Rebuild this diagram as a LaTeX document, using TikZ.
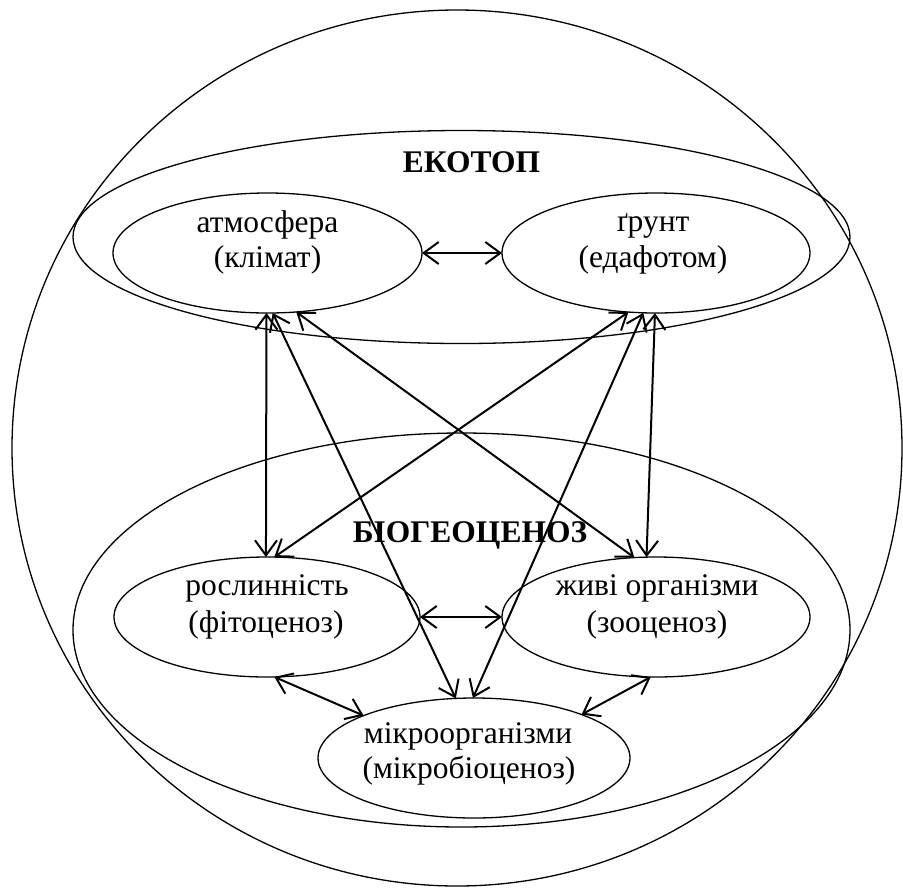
\documentclass[tikz,border=0pt]{standalone}
\usepackage{fontspec}
\setmainfont{Liberation Serif}
\usetikzlibrary{arrows.meta,shapes.geometric}
\begin{document}
\begin{tikzpicture}[x=1pt,y=-1pt,
  shell/.style={draw, ellipse, line width=1.3pt, inner sep=0pt, outer sep=0pt},
  cell/.style={shell, minimum width=#1, minimum height=120pt},
  txt/.style={font=\fontsize{31.5}{36}\selectfont, anchor=base, inner sep=0pt},
  ttl/.style={font=\fontsize{31.5}{36}\selectfont\bfseries, anchor=base, inner sep=0pt},
  link/.style={line width=2pt, {Straight Barb[length=15pt,width=22pt]}-{Straight Barb[length=15pt,width=22pt]}}
]
\useasboundingbox (0,0) rectangle (903,887);

% containers
\node[shell, minimum width=890pt, minimum height=876pt] (world) at (457,448) {};
\node[shell, minimum width=777pt, minimum height=213pt] (ecotop) at (461.5,237) {};
\node[shell, minimum width=777pt, minimum height=394pt] (bgc) at (461.5,630) {};

% components
\node[cell=309pt] (atm) at (267.5,253) {};
\node[cell=308pt] (grunt) at (656,253) {};
\node[cell=306pt] (fito) at (267,617) {};
\node[cell=308pt] (zhyvi) at (656,617) {};
\node[cell=312pt] (mikro) at (474,758) {};

% titles
\node[ttl] (ecotopT) at (471.5,172) {ЕКОТОП};
\node[ttl] (bgcT) at (470,542) {БІОГЕОЦЕНОЗ};

% texts
\node[txt] (atmA) at (267.5,232) {атмосфера};
\node[txt] (atmB) at (267.5,267) {(клімат)};
\node[txt] (grA) at (653,231) {ґрунт};
\node[txt] (grB) at (653,267) {(едафотом)};
\node[txt] (fitoA) at (267,595) {рослинність};
\node[txt] (fitoB) at (266,632) {(фітоценоз)};
\node[txt] (zhA) at (657,595) {живі організми};
\node[txt] (zhB) at (657,632) {(зооценоз)};
\node[txt] (miA) at (468,743) {мікроорганізми};
\node[txt] (miB) at (469,778) {(мікробіоценоз)};

% links
\draw[link] (atm.east) -- (grunt.west);
\draw[link] (fito.east) -- (zhyvi.west);
\draw[link] (atm.-91) -- (fito.91);
\draw[link] (grunt.-91) -- (zhyvi.99);
\draw[link] (atm.-85) -- (mikro.107);
\draw[link] (grunt.-115) -- (fito.83);
\draw[link] (grunt.-102) -- (mikro.91);
\draw[link] (atm.-64) -- (zhyvi.110);
\draw[link] (fito.-83) -- (mikro.159);
\draw[link] (zhyvi.-95) -- (mikro.22);
\end{tikzpicture}
\end{document}
